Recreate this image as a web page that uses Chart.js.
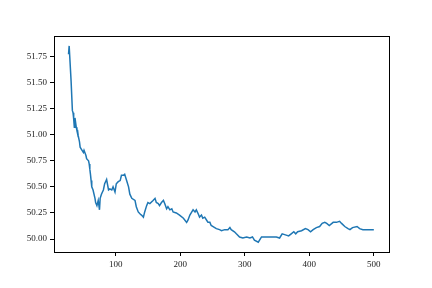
<!DOCTYPE html>
<html>
<head>
<meta charset="utf-8">
<script src="https://cdn.jsdelivr.net/npm/chart.js@4"></script>
<style>
  html, body { margin: 0; padding: 0; background: #fff; }
  #wrap { width: 432px; height: 288px; }
</style>
</head>
<body>
<div id="wrap"><canvas id="chart"></canvas></div>
<script>
// values
const xValues = [27, 28, 29, 31, 33, 34, 35, 36, 37, 39, 40, 41, 42, 44, 45, 47, 50, 51, 54, 55,
    58, 59, 60, 61, 62, 63, 65, 68, 69, 71, 73, 75, 76, 78, 81, 83, 86, 89, 91, 94,
    96, 99, 101, 104, 107, 109, 112, 114, 117, 120, 122, 125, 130, 132, 135, 138, 140, 143, 145, 148,
    150, 153, 158, 161, 163, 166, 168, 171, 174, 176, 179, 181, 184, 187, 189, 194, 199, 205, 210, 212,
    215, 218, 220, 223, 225, 228, 230, 233, 235, 238, 241, 243, 246, 248, 251, 256, 261, 264, 269, 274,
    277, 279, 284, 287, 292, 297, 303, 308, 312, 315, 321, 326, 331, 339, 344, 349, 354, 358, 363, 368,
    372, 376, 379, 382, 388, 394, 398, 402, 406, 411, 416, 420, 424, 427, 431, 437, 442, 447, 450, 455,
    460, 463, 467, 474, 478, 483, 491, 496, 500];
const yValues = [51.77, 51.85, 51.85, 51.51, 51.23, 51.21, 51.15, 51.07, 51.16, 51.07, 51.04, 51.04, 50.99, 50.93, 50.88, 50.86, 50.83, 50.85, 50.80, 50.77,
    50.75, 50.72, 50.67, 50.62, 50.56, 50.50, 50.47, 50.39, 50.35, 50.32, 50.37, 50.28, 50.39, 50.43, 50.47, 50.53, 50.57, 50.47, 50.48, 50.47,
    50.50, 50.45, 50.53, 50.55, 50.56, 50.61, 50.61, 50.62, 50.56, 50.50, 50.43, 50.39, 50.37, 50.31, 50.26, 50.24, 50.23, 50.21, 50.26, 50.32,
    50.35, 50.34, 50.37, 50.39, 50.35, 50.34, 50.32, 50.35, 50.37, 50.34, 50.29, 50.31, 50.28, 50.29, 50.26, 50.25, 50.23, 50.20, 50.16, 50.18,
    50.23, 50.26, 50.28, 50.26, 50.28, 50.24, 50.21, 50.23, 50.20, 50.21, 50.18, 50.16, 50.16, 50.13, 50.12, 50.10, 50.09, 50.08, 50.09, 50.09,
    50.11, 50.09, 50.07, 50.05, 50.02, 50.01, 50.02, 50.01, 50.02, 49.99, 49.97, 50.02, 50.02, 50.02, 50.02, 50.02, 50.01, 50.05, 50.04, 50.03,
    50.05, 50.07, 50.05, 50.07, 50.08, 50.10, 50.09, 50.07, 50.09, 50.11, 50.12, 50.15, 50.16, 50.15, 50.13, 50.16, 50.16, 50.17, 50.15, 50.12,
    50.10, 50.09, 50.11, 50.12, 50.10, 50.09, 50.09, 50.09, 50.09];
const xTicks = [100, 200, 300, 400, 500];
const yTicks = [50.00, 50.25, 50.50, 50.75, 51.00, 51.25, 51.50, 51.75];

const points = xValues.map(function(x, i) {
    return { x: x, y: yValues[i] };
});

const frame = {
    id: 'frame',
    afterDraw: function(chart) {
        const a = chart.chartArea;
        const ctx = chart.ctx;
        ctx.save();
        ctx.strokeStyle = '#000';
        ctx.lineWidth = 1;
        ctx.strokeRect(Math.round(a.left) + 0.5, Math.round(a.top) + 0.5,
            Math.round(a.right - a.left), Math.round(a.bottom - a.top));
        ctx.restore();
    }
};

const tickFont = { family: '"Liberation Serif", "DejaVu Serif", serif', size: 9 };

new Chart(document.getElementById('chart'), {
    type: 'line',
    data: {
        datasets: [{
            data: points,
            borderColor: '#1f77b4',
            borderWidth: 1.5,
            pointRadius: 0,
            tension: 0,
            fill: false
        }]
    },
    options: {
        responsive: true,
        maintainAspectRatio: false,
        animation: false,
        events: [],
        layout: { padding: { top: 36, right: 43, left: 0, bottom: 0 } },
        plugins: { legend: { display: false }, tooltip: { enabled: false } },
        scales: {
            x: {
                type: 'linear',
                min: 4.5,
                max: 523.5,
                afterFit: function(s) { s.height = 36; },
                afterBuildTicks: function(s) { s.ticks = xTicks.map(function(v) { return { value: v }; }); },
                border: { display: false },
                grid: { drawOnChartArea: false, drawTicks: true, tickLength: 4, tickColor: '#000' },
                ticks: { color: '#222', font: tickFont, padding: 3, maxRotation: 0,
                    callback: function(v) { return String(v); } }
            },
            y: {
                type: 'linear',
                min: 49.876,
                max: 51.945,
                afterFit: function(s) { s.width = 54; },
                afterBuildTicks: function(s) { s.ticks = yTicks.map(function(v) { return { value: v }; }); },
                border: { display: false },
                grid: { drawOnChartArea: false, drawTicks: true, tickLength: 4, tickColor: '#000' },
                ticks: { color: '#222', font: tickFont, padding: 3,
                    callback: function(v) { return Number(v).toFixed(2); } }
            }
        }
    },
    plugins: [frame]
});
</script>
</body>
</html>
